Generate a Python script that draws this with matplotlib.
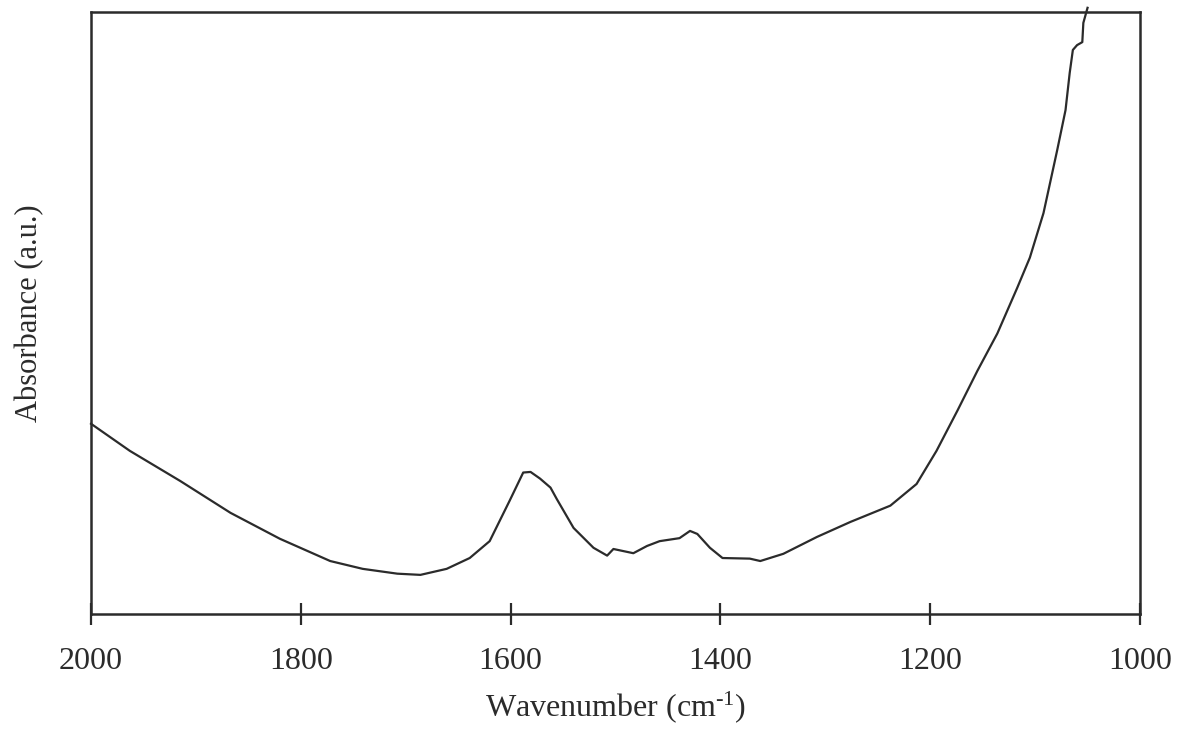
import matplotlib
matplotlib.use("Agg")
import matplotlib.pyplot as plt

# IR spectrum, values
wavenumber = [2000, 1963, 1915, 1867, 1820, 1772, 1741, 1708, 1686, 1661,
              1639, 1620, 1601, 1588, 1581, 1572, 1562, 1556, 1540, 1521,
              1508, 1502, 1483, 1470, 1458, 1439, 1429, 1422, 1410, 1398,
              1372, 1362, 1340, 1308, 1276, 1238, 1213, 1194, 1174, 1155,
              1136, 1117, 1105, 1092, 1079, 1071, 1067, 1064, 1060, 1055,
              1054, 1050]
absorbance = [0.316, 0.271, 0.221, 0.168, 0.125, 0.088, 0.075, 0.067, 0.065, 0.075,
              0.093, 0.121, 0.188, 0.235, 0.236, 0.225, 0.210, 0.191, 0.143, 0.110,
              0.097, 0.108, 0.101, 0.113, 0.121, 0.126, 0.138, 0.133, 0.110, 0.093,
              0.092, 0.088, 0.100, 0.128, 0.153, 0.180, 0.216, 0.271, 0.338, 0.404,
              0.466, 0.542, 0.592, 0.666, 0.770, 0.837, 0.899, 0.937, 0.945, 0.950,
              0.982, 1.007]
x_ticks = [2000, 1800, 1600, 1400, 1200, 1000]

plt.rcParams["font.family"] = ["Liberation Serif", "DejaVu Serif"]
plt.rcParams["mathtext.fontset"] = "custom"
plt.rcParams["mathtext.rm"] = "Liberation Serif"
plt.rcParams["mathtext.default"] = "regular"

fig = plt.figure(figsize=(11.87, 7.42), dpi=100)
ax = fig.add_axes([0.0767, 0.1725, 0.8837, 0.8113])

ax.plot(wavenumber, absorbance, color="#2b2b2b", linewidth=1.6, clip_on=False)

ax.set_xlim(2000, 1000)
ax.set_ylim(0, 1)
ax.set_xticks(x_ticks)
ax.set_yticks([])
ax.tick_params(axis="x", direction="inout", length=16, width=1.6,
               pad=16, labelsize=23, colors="#2b2b2b")
for spine in ax.spines.values():
    spine.set_linewidth(1.8)
    spine.set_color("#2b2b2b")

ax.set_xlabel(r"Wavenumber (cm$^{\text{-1}}$)", fontsize=23, color="#2b2b2b", labelpad=9)
ax.set_ylabel("Absorbance (a.u.)", fontsize=22, color="#2b2b2b", labelpad=34)

fig.savefig("out.png", dpi=100)
